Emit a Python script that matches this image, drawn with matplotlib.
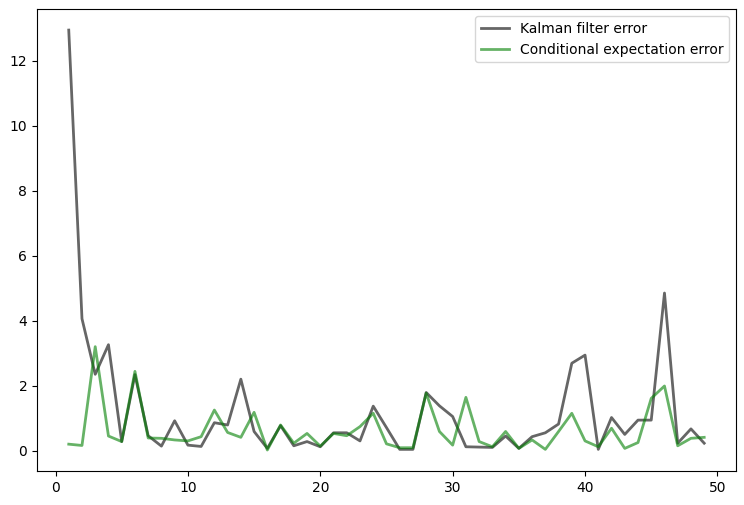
import matplotlib
matplotlib.use("Agg")
import matplotlib.pyplot as plt

steps = list(range(1, 50))

kalman_err = [
    12.95, 4.07, 2.36, 3.27, 0.29, 2.35, 0.47, 0.15, 0.93, 0.18,
    0.14, 0.87, 0.80, 2.21, 0.60, 0.08, 0.78, 0.16, 0.29, 0.13,
    0.56, 0.56, 0.31, 1.38, 0.72, 0.05, 0.05, 1.80, 1.39, 1.06,
    0.13, 0.12, 0.11, 0.46, 0.08, 0.44, 0.56, 0.83, 2.70, 2.95,
    0.05, 1.03, 0.51, 0.95, 0.95, 4.86, 0.24, 0.68, 0.24,
]

cond_exp_err = [
    0.21, 0.17, 3.21, 0.46, 0.29, 2.45, 0.40, 0.39, 0.34, 0.31,
    0.44, 1.26, 0.57, 0.42, 1.19, 0.03, 0.80, 0.24, 0.54, 0.15,
    0.54, 0.47, 0.75, 1.16, 0.22, 0.10, 0.10, 1.78, 0.60, 0.18,
    1.65, 0.29, 0.13, 0.60, 0.08, 0.34, 0.05, 0.60, 1.16, 0.31,
    0.13, 0.70, 0.08, 0.26, 1.62, 2.00, 0.16, 0.39, 0.42,
]

fig = plt.figure(figsize=(7.44, 5.05), dpi=100)
ax = fig.add_axes([0.0497, 0.0673, 0.9395, 0.9147])
ax.plot(steps, kalman_err, 'k-', lw=2, alpha=0.6, label="Kalman filter error")
ax.plot(steps, cond_exp_err, 'g-', lw=2, alpha=0.6, label="Conditional expectation error")
ax.legend(loc="upper right")
fig.savefig("out.png", dpi=100)
